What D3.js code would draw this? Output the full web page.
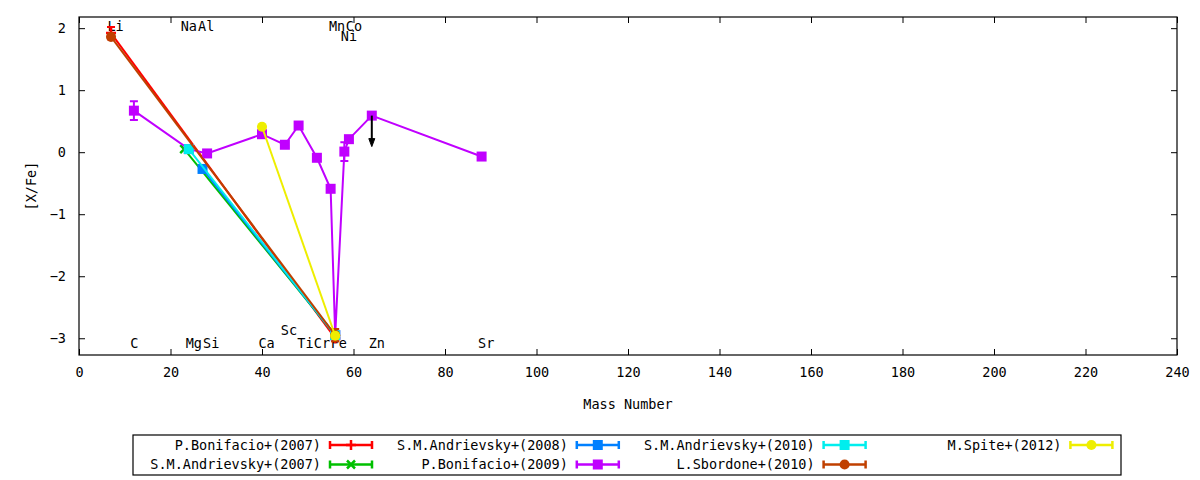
<!DOCTYPE html>
<html>
<head>
<meta charset="utf-8">
<script src="https://cdn.jsdelivr.net/npm/d3@7"></script>
<style>
  body { margin: 0; background: #fff; }
  svg text { font-family: "DejaVu Sans Mono", monospace; font-size: 13.5px; fill: #000; }
</style>
</head>
<body>
<svg id="chart" width="1200" height="480"></svg>
<script>
// ---- data (mass number, [X/Fe], error) ----
var bonifacio2007 = [[7, 1.92, 0.1], [56, -3.0, 0.05]];
var andrievsky2007 = [[23, 0.05, 0], [56, -2.95, 0]];
var andrievsky2008 = [[27, -0.27, 0], [56, -2.95, 0]];
var bonifacio2009 = [[12, 0.67, 0.15], [24, 0.05, 0], [28, -0.02, 0], [40, 0.29, 0],
                     [45, 0.12, 0], [48, 0.43, 0], [52, -0.09, 0], [55, -0.59, 0],
                     [56, -2.95, 0], [58, 0.01, 0.15], [59, 0.21, 0], [64, 0.59, 0],
                     [88, -0.07, 0]];
var andrievsky2010 = [[24, 0.05, 0], [56, -2.95, 0]];
var sbordone2010 = [[7, 1.86, 0], [56, -2.95, 0.1]];
var spite2012 = [[40, 0.41, 0], [56, -2.96, 0]];

var seriesNames = ["P.Bonifacio+(2007)", "S.M.Andrievsky+(2007)", "S.M.Andrievsky+(2008)",
                   "P.Bonifacio+(2009)", "S.M.Andrievsky+(2010)", "L.Sbordone+(2010)", "M.Spite+(2012)"];
var seriesData = [bonifacio2007, andrievsky2007, andrievsky2008, bonifacio2009,
                  andrievsky2010, sbordone2010, spite2012];

// upper limit (Zn) arrow: from, to
var zincLimit = [64, 0.59, 0.09];

// element labels
var labelNames = ["Li", "Na", "Al", "Mn", "Co", "Ni",
                  "C", "Mg", "Si", "Ca", "Sc", "Ti", "Cr", "Fe", "Zn", "Sr"];
var labelMass = [8, 24, 27.8, 56.4, 60.1, 59,
                 12.1, 25.1, 28.9, 41, 45.9, 49.5, 53.1, 56.8, 65.1, 89];
var labelLevel = [2.03, 2.03, 2.03, 2.03, 2.03, 1.87,
                  -3.08, -3.08, -3.08, -3.08, -2.87, -3.08, -3.08, -3.08, -3.08, -3.08];

var xTicks = d3.range(0, 241, 20);
var yTicks = [-3, -2, -1, 0, 1, 2];

// ---- styles ----
var colors = ["#ff0000", "#00c000", "#0080ff", "#c000ff", "#00eeee", "#c04000", "#eeee00"];
var markers = ["plus", "cross", "square", "square", "square", "circle", "circle"];

var svg = d3.select("#chart");
var L = 79, R = 1177, T = 17, B = 355;

var x = d3.scaleLinear().domain([0, 240]).range([L, R]);
var y = d3.scaleLinear().domain([-3.27, 2.18]).range([B, T]);

// axes (inward ticks, mirrored)
svg.append("g").attr("transform", "translate(0," + B + ")")
  .call(d3.axisBottom(x).tickValues(xTicks).tickSize(-6).tickPadding(12))
  .call(function(g){ g.select(".domain").remove(); });
svg.append("g").attr("transform", "translate(0," + T + ")")
  .call(d3.axisTop(x).tickValues(xTicks).tickSize(-6).tickFormat(""))
  .call(function(g){ g.select(".domain").remove(); });
svg.append("g").attr("transform", "translate(" + L + ",0)")
  .call(d3.axisLeft(y).tickValues(yTicks).tickSize(-6).tickPadding(13).tickFormat(d3.format("d")))
  .call(function(g){ g.select(".domain").remove(); });
svg.append("g").attr("transform", "translate(" + R + ",0)")
  .call(d3.axisRight(y).tickValues(yTicks).tickSize(-6).tickFormat(""))
  .call(function(g){ g.select(".domain").remove(); });
svg.selectAll(".tick line").attr("stroke", "#000");
svg.selectAll(".tick text").style("font-size", "13.5px").style("font-family", "DejaVu Sans Mono");

svg.append("rect").attr("x", L).attr("y", T).attr("width", R - L).attr("height", B - T)
  .attr("fill", "none").attr("stroke", "#000").attr("stroke-width", 1.2);

svg.append("text").attr("x", (L + R) / 2).attr("y", 409).attr("text-anchor", "middle").text("Mass Number");
svg.append("text").attr("transform", "translate(36,186) rotate(-90)")
  .attr("text-anchor", "middle").text("[X/Fe]");

// element labels
svg.append("g").selectAll("text").data(labelNames).join("text")
  .attr("x", function(d, i){ return x(labelMass[i]); })
  .attr("y", function(d, i){ return y(labelLevel[i]); })
  .attr("dy", "0.35em").attr("text-anchor", "middle").text(function(d){ return d; });

function drawMarker(g, type, color) {
  if (type === "square") {
    g.append("path").attr("d", d3.symbol(d3.symbolSquare, 100)()).attr("fill", color);
  } else if (type === "circle") {
    g.append("path").attr("d", d3.symbol(d3.symbolCircle, 80)()).attr("fill", color);
  } else if (type === "plus") {
    g.append("path").attr("d", "M-5,0H5M0,-5V5").attr("stroke", color).attr("stroke-width", 2.5);
  } else {
    g.append("path").attr("d", "M-4,-4L4,4M-4,4L4,-4").attr("stroke", color).attr("stroke-width", 2.5);
  }
}

var line = d3.line().x(function(d){ return x(d[0]); }).y(function(d){ return y(d[1]); });

var plot = svg.append("g");
seriesData.forEach(function(data, si) {
  var c = colors[si];
  var g = plot.append("g");
  g.append("path").datum(data).attr("d", line)
    .attr("fill", "none").attr("stroke", c).attr("stroke-width", 2);
  data.forEach(function(d) {
    if (d[2] > 0) {
      var px = x(d[0]), y0 = y(d[1] - d[2]), y1 = y(d[1] + d[2]);
      g.append("path")
        .attr("d", "M" + px + "," + y0 + "V" + y1 + "M" + (px - 4) + "," + y0 + "H" + (px + 4) +
                   "M" + (px - 4) + "," + y1 + "H" + (px + 4))
        .attr("stroke", c).attr("stroke-width", 2).attr("fill", "none");
    }
    var m = g.append("g").attr("transform", "translate(" + x(d[0]) + "," + y(d[1]) + ")");
    drawMarker(m, markers[si], c);
  });
});

// upper limit arrow
var ax = x(zincLimit[0]), ay0 = y(zincLimit[1]), ay1 = y(zincLimit[2]);
svg.append("line").attr("x1", ax).attr("x2", ax).attr("y1", ay0).attr("y2", ay1 - 6)
  .attr("stroke", "#000").attr("stroke-width", 2);
svg.append("path").attr("d", "M" + (ax - 3) + "," + (ay1 - 8) + "L" + (ax + 3) + "," + (ay1 - 8) + "L" + ax + "," + ay1 + "Z")
  .attr("fill", "#000").attr("stroke", "#000").attr("stroke-width", 1);

// legend
var legX = 133, legY = 435, legW = 988, legH = 40, colW = 246.8;
svg.append("rect").attr("x", legX).attr("y", legY).attr("width", legW).attr("height", legH)
  .attr("fill", "none").attr("stroke", "#000").attr("stroke-width", 1.2);
seriesNames.forEach(function(name, i) {
  var col = Math.floor(i / 2), row = i % 2;
  var cx = legX + col * colW, cy = legY + 10 + row * 19.5;
  var g = svg.append("g");
  g.append("text").attr("x", cx + 188).attr("y", cy).attr("dy", "0.35em")
    .attr("text-anchor", "end").text(name);
  var s0 = cx + 197, s1 = cx + 239;
  g.append("path")
    .attr("d", "M" + s0 + "," + cy + "H" + s1 + "M" + s0 + "," + (cy - 4) + "V" + (cy + 4) +
               "M" + s1 + "," + (cy - 4) + "V" + (cy + 4))
    .attr("stroke", colors[i]).attr("stroke-width", 2.5).attr("fill", "none");
  var m = g.append("g").attr("transform", "translate(" + ((s0 + s1) / 2) + "," + cy + ")");
  drawMarker(m, markers[i], colors[i]);
});
</script>
</body>
</html>
